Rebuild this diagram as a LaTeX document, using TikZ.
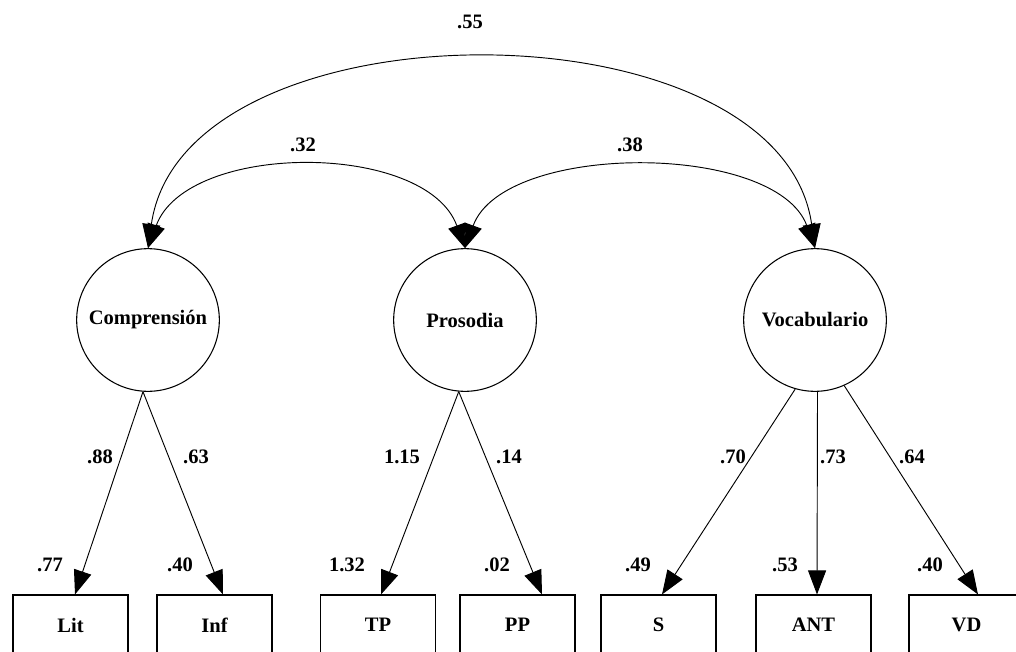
\documentclass[tikz,border=0pt]{standalone}
\usepackage{fontspec}
\setmainfont{Liberation Serif}
\usetikzlibrary{arrows.meta,calc}
\begin{document}
\begin{tikzpicture}[x=0.75pt,y=0.75pt,
  lbl/.style={font=\bfseries\fontsize{15.4}{18}\selectfont},
  latent/.style={circle,draw,line width=0.8pt,minimum size=107pt,inner sep=0pt,lbl},
  observed/.style={rectangle,draw,line width=0.8pt,minimum width=86.25pt,minimum height=45pt,inner sep=0pt,lbl},
  coef/.style={inner sep=0pt,lbl},
  head/.tip={Triangle[length=18pt,width=13.5pt]},
  load/.style={line width=0.7pt,-head},
  cov/.style={line width=0.7pt,head-head}
]
\useasboundingbox (0,0) rectangle (1016,651);
\clip (0,0) rectangle (1016,651);

% latent factors
\node[latent] (comp) at (148,331) {Comprensión};
\node[latent] (pros) at (465,331) {Prosodia};
\node[latent] (voc)  at (815,331) {Vocabulario};

% observed indicators
\node[observed] (lit) at (70.5,26)  {Lit};
\node[observed] (inf) at (214.5,26) {Inf};
\node[observed] (tp)  at (378,26)   {TP};
\node[observed] (pp)  at (517.5,26) {PP};
\node[observed] (s)   at (658.5,26) {S};
\node[observed] (ant) at (813.5,26) {ANT};
\node[observed] (vd)  at (966.5,26) {VD};

% factor loadings
\draw[load] (comp.266) -- ($(lit.north)+(4.5,0)$);
\draw[load] (comp.266) -- ($(inf.north)+(8.5,0)$);
\draw[load] (pros.265) -- ($(tp.north)+(3,0)$);
\draw[load] (pros.265) -- ($(pp.north)+(24.5,0)$);
\draw[load] (voc.254)  -- ($(s.north)+(3.5,0)$);
\draw[load] (voc.272)  -- ($(ant.north)+(3.5,0)$);
\draw[load] (voc.294)  -- ($(vd.north)+(11.5,0)$);

% factor covariances
\draw[cov] (comp.north) to[out=82,in=98,looseness=0.97] (voc.north);
\draw[cov] (comp.north) to[out=70,in=110,looseness=0.92] (pros.north);
\draw[cov] (pros.north) to[out=70,in=110,looseness=0.83] (voc.north);

% covariance values
\node[coef] (c55) at (470,629) {.55};
\node[coef] (c32) at (303,506) {.32};
\node[coef] (c38) at (630,506) {.38};

% loading values
\node[coef] (l1) at (100,194) {.88};
\node[coef] (l2) at (196,194) {.63};
\node[coef] (l3) at (402,194) {1.15};
\node[coef] (l4) at (509,194) {.14};
\node[coef] (l5) at (733,194) {.70};
\node[coef] (l6) at (833,194) {.73};
\node[coef] (l7) at (912,194) {.64};

% explained variance values
\node[coef] (r1) at (50,86)  {.77};
\node[coef] (r2) at (180,86) {.40};
\node[coef] (r3) at (347,86) {1.32};
\node[coef] (r4) at (497,86) {.02};
\node[coef] (r5) at (638,86) {.49};
\node[coef] (r6) at (785,86) {.53};
\node[coef] (r7) at (930,86) {.40};
\end{tikzpicture}
\end{document}
